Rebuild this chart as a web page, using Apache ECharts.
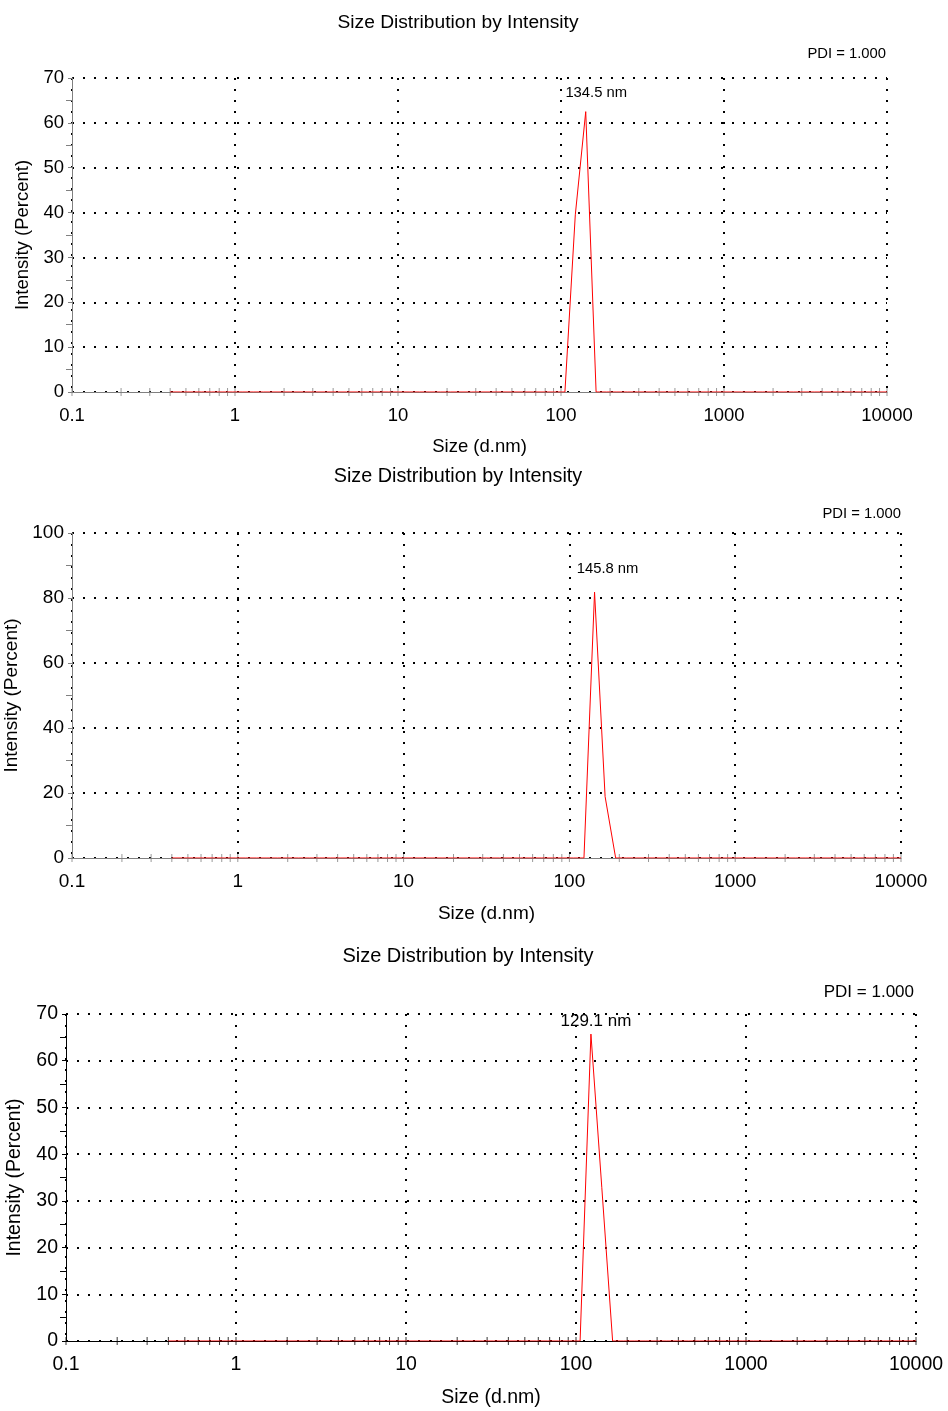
<!DOCTYPE html>
<html>
<head>
<meta charset="utf-8">
<title>Size Distribution by Intensity</title>
<script src="https://cdn.jsdelivr.net/npm/echarts@6/dist/echarts.min.js"></script>
<style>
  html, body { margin: 0; padding: 0; background: #fff; }
  #chart { width: 948px; height: 1411px; }
</style>
</head>
<body>
<div id="chart"></div>
<script>
// size classes (d.nm)
var sizes = [
  0.4, 0.4632, 0.5365, 0.6213, 0.7195, 0.8332, 0.9649, 1.117, 1.294, 1.499,
  1.736, 2.010, 2.328, 2.696, 3.122, 3.615, 4.187, 4.849, 5.615, 6.503,
  7.531, 8.721, 10.10, 11.70, 13.54, 15.69, 18.17, 21.04, 24.36, 28.21,
  32.67, 37.84, 43.82, 50.75, 58.77, 68.06, 78.82, 91.28, 105.7, 122.4,
  141.8, 164.2, 190.1, 220.2, 255.0, 295.3, 342.0, 396.1, 458.7, 531.2,
  615.1, 712.4, 825.0, 955.4, 1106, 1281, 1484, 1718, 1990, 2305,
  2669, 3091, 3580, 4145, 4801, 5560, 6439, 7456, 8635, 10000
];
// intensity (%) per size class
var intensity1 = [
  0, 0, 0, 0, 0, 0, 0, 0, 0, 0,
  0, 0, 0, 0, 0, 0, 0, 0, 0, 0,
  0, 0, 0, 0, 0, 0, 0, 0, 0, 0,
  0, 0, 0, 0, 0, 0, 0, 0, 0, 39.5,
  62.5, 0, 0, 0, 0, 0, 0, 0, 0, 0,
  0, 0, 0, 0, 0, 0, 0, 0, 0, 0,
  0, 0, 0, 0, 0, 0, 0, 0, 0, 0
];
var intensity2 = [
  0, 0, 0, 0, 0, 0, 0, 0, 0, 0,
  0, 0, 0, 0, 0, 0, 0, 0, 0, 0,
  0, 0, 0, 0, 0, 0, 0, 0, 0, 0,
  0, 0, 0, 0, 0, 0, 0, 0, 0, 0,
  81.8, 18.9, 0, 0, 0, 0, 0, 0, 0, 0,
  0, 0, 0, 0, 0, 0, 0, 0, 0, 0,
  0, 0, 0, 0, 0, 0, 0, 0, 0, 0
];
var intensity3 = [
  0, 0, 0, 0, 0, 0, 0, 0, 0, 0,
  0, 0, 0, 0, 0, 0, 0, 0, 0, 0,
  0, 0, 0, 0, 0, 0, 0, 0, 0, 0,
  0, 0, 0, 0, 0, 0, 0, 0, 0, 65.7,
  32.9, 0, 0, 0, 0, 0, 0, 0, 0, 0,
  0, 0, 0, 0, 0, 0, 0, 0, 0, 0,
  0, 0, 0, 0, 0, 0, 0, 0, 0, 0
];
var peakLabels = ['134.5 nm', '145.8 nm', '129.1 nm'];
var pdiLabels = ['PDI = 1.000', 'PDI = 1.000', 'PDI = 1.000'];
var yMaxes = [70, 100, 70];
var ySteps = [10, 20, 10];
// x tick marks (log axis, 1..9 per decade)
var xTicks = [
  0.1, 0.2, 0.3, 0.4, 0.5, 0.6, 0.7, 0.8, 0.9,
  1, 2, 3, 4, 5, 6, 7, 8, 9,
  10, 20, 30, 40, 50, 60, 70, 80, 90,
  100, 200, 300, 400, 500, 600, 700, 800, 900,
  1000, 2000, 3000, 4000, 5000, 6000, 7000, 8000, 9000, 10000
];

var FONT = '"Liberation Sans", Arial, sans-serif';

// layout of the three panels
var panels = [
  { data: intensity1, left: 72, right: 61, top: 78, height: 314, axisColor: '#808080',
    titleX: 458, titleY: 23, titleFont: 19.2, pdiX: 886, pdiY: 54, font: 18.5, small: 14.8,
    xGap: 45, yGap: 40, labelPos: [10.5, -19] },
  { data: intensity2, left: 72, right: 47, top: 533, height: 325, axisColor: '#808080',
    titleX: 458, titleY: 477, titleFont: 19.8, pdiX: 901, pdiY: 514, font: 19, small: 14.8,
    xGap: 46, yGap: 50, labelPos: [13, -23] },
  { data: intensity3, left: 66, right: 32, top: 1014, height: 327, axisColor: '#000',
    titleX: 468, titleY: 956, titleFont: 20, pdiX: 914, pdiY: 992, font: 19.5, small: 17,
    xGap: 47, yGap: 41, labelPos: [5, -13] }
];

var grids = [], xAxes = [], yAxes = [], series = [], graphics = [];

panels.forEach(function (p, k) {
  grids.push({
    left: p.left, right: p.right, top: p.top, height: p.height,
    containLabel: false, outerBoundsMode: 'none'
  });

  xAxes.push({
    gridIndex: k,
    type: 'log',
    logBase: 10,
    min: 0.1,
    max: 10000,
    name: 'Size (d.nm)',
    nameLocation: 'middle',
    nameGap: p.xGap,
    nameTextStyle: { fontFamily: FONT, fontSize: p.font, color: '#000' },
    axisLine: { show: true, onZero: false, lineStyle: { color: p.axisColor, width: 1 } },
    axisTick: { show: false },
    minorTick: { show: false },
    axisLabel: {
      fontFamily: FONT, fontSize: p.font, color: '#000', margin: 14,
      formatter: function (v) { return String(Math.round(v * 10) / 10); }
    },
    splitLine: { show: true, lineStyle: { color: '#000', type: [2, 9], width: 2 } }
  });

  yAxes.push({
    gridIndex: k,
    type: 'value',
    min: 0,
    max: yMaxes[k],
    interval: ySteps[k],
    name: 'Intensity (Percent)',
    nameLocation: 'middle',
    nameGap: p.yGap,
    nameTextStyle: { fontFamily: FONT, fontSize: p.font, color: '#000' },
    axisLine: { show: true, lineStyle: { color: p.axisColor, width: 1 } },
    axisTick: { show: true, length: 4, lineStyle: { color: p.axisColor } },
    minorTick: { show: true, splitNumber: 2, length: 6, lineStyle: { color: p.axisColor } },
    axisLabel: { fontFamily: FONT, fontSize: p.font, color: '#000', margin: 8 },
    splitLine: { show: true, lineStyle: { color: '#000', type: [2, 9], width: 2 } }
  });

  var vals = p.data;
  var peak = vals.indexOf(Math.max.apply(null, vals));
  series.push({
    type: 'line',
    xAxisIndex: k,
    yAxisIndex: k,
    showSymbol: true,
    symbol: 'circle',
    symbolSize: 0,
    silent: true,
    z: 5,
    lineStyle: { color: '#ff0000', width: 1 },
    itemStyle: { color: '#ff0000' },
    labelLayout: { hideOverlap: false },
    data: sizes.map(function (s, i) {
      var item = { value: [s, vals[i]] };
      if (i === peak) {
        item.label = {
          show: true, position: p.labelPos, align: 'center', verticalAlign: 'middle',
          formatter: peakLabels[k], fontFamily: FONT, fontSize: p.small, color: '#000'
        };
      }
      return item;
    })
  });

  // tick marks crossing the x axis
  series.push({
    type: 'scatter',
    xAxisIndex: k,
    yAxisIndex: k,
    silent: true,
    symbol: 'rect',
    symbolSize: [1, 8],
    itemStyle: { color: p.axisColor },
    z: 3,
    data: xTicks.map(function (v) { return [v, 0]; })
  });

  graphics.push({
    type: 'text', x: p.titleX, y: p.titleY,
    style: {
      text: 'Size Distribution by Intensity', fill: '#000',
      font: p.titleFont + 'px ' + FONT,
      align: 'center', verticalAlign: 'middle',
      textAlign: 'center', textVerticalAlign: 'middle'
    }
  });
  graphics.push({
    type: 'text', x: p.pdiX, y: p.pdiY,
    style: {
      text: pdiLabels[k], fill: '#000',
      font: p.small + 'px ' + FONT,
      align: 'right', verticalAlign: 'middle',
      textAlign: 'right', textVerticalAlign: 'middle'
    }
  });
});

var myChart = echarts.init(document.getElementById('chart'));
myChart.setOption({
  animation: false,
  backgroundColor: '#fff',
  textStyle: { fontFamily: FONT },
  grid: grids,
  xAxis: xAxes,
  yAxis: yAxes,
  series: series,
  graphic: graphics
});
</script>
</body>
</html>
